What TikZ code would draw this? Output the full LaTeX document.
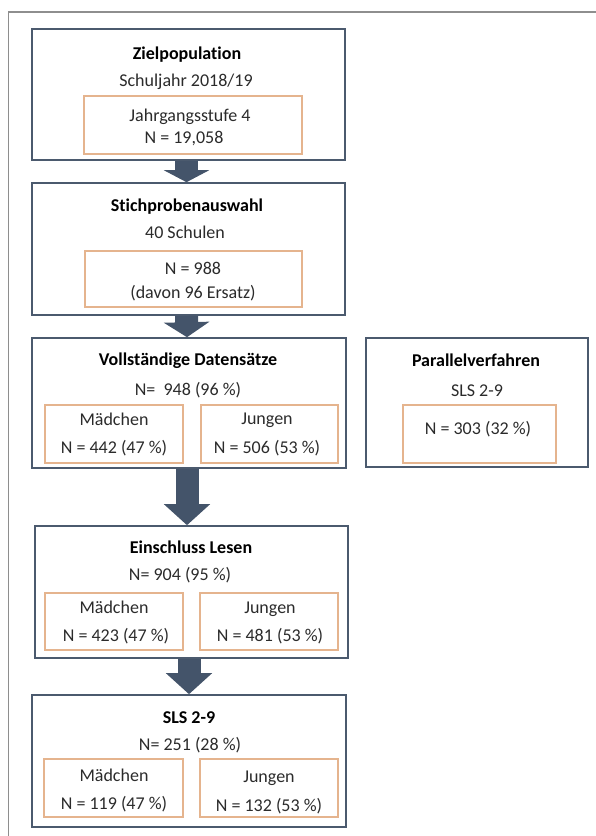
\documentclass[tikz,border=0pt]{standalone}
\usepackage{fontspec}
\setmainfont{Carlito}[Ligatures=NoCommon]
\usetikzlibrary{arrows.meta,calc}
\definecolor{boxblue}{HTML}{4B5A6E}
\definecolor{arrowblue}{HTML}{44546A}
\definecolor{subor}{HTML}{E5B48E}
\definecolor{frameg}{HTML}{8E8E8E}
\definecolor{txt}{HTML}{2B2B2B}
\tikzset{every picture/.style={line width=0.75pt}}
\tikzset{
  mainbox/.style={draw=boxblue,line width=1.6pt,fill=white,inner sep=0pt},
  subbox/.style={draw=subor,line width=1.1pt,inner sep=0pt},
  lbl/.style={text=txt,inner sep=0pt,text height=15pt,text depth=3pt,font=\fontsize{18}{21}\selectfont},
  ttl/.style={lbl,text=black,font=\fontsize{18}{21}\selectfont\bfseries},
  bigarrow/.style={draw=arrowblue,line width=23pt,-{Triangle[width=45pt,length=#1]}},
  bigarrow/.default=14pt
}

\begin{document}
\begin{tikzpicture}[x=1pt,y=-1pt]
    \useasboundingbox (0,0) rectangle (595,836);
    % Rahmen
    \draw[frameg,line width=1.5pt] (8.5,840) -- (8.5,12) -- (600,12);

    % === Zielpopulation ===
    \node[mainbox,minimum width=313pt,minimum height=131pt] (ziel) at (188.5,94.5) {};
    \node[subbox,minimum width=218pt,minimum height=58pt] (zielN) at (193,125) {};
    \node[ttl] (zielT) at (187,53) {Zielpopulation};
    \node[lbl] (zielS) at (186,80) {Schuljahr 2018/19};
    \node[lbl] (zielA) at (190,115) {Jahrgangsstufe 4};
    \node[lbl] (zielB) at (184,137) {N = 19,058};

    % === Stichprobenauswahl ===
    \node[mainbox,minimum width=313pt,minimum height=132pt] (stich) at (188.5,249) {};
    \node[subbox,minimum width=217pt,minimum height=56pt] (stichN) at (193.5,279) {};
    \node[ttl] (stichT) at (187,205) {Stichprobenauswahl};
    \node[lbl] (stichS) at (185,232) {40 Schulen};
    \node[lbl] (stichA) at (193,268) {N = 988};
    \node[lbl] (stichB) at (193,292) {(davon 96 Ersatz)};

    % === Vollständige Datensätze ===
    \node[mainbox,minimum width=314pt,minimum height=130pt] (voll) at (189,403) {};
    \node[subbox,minimum width=138pt,minimum height=58pt] (vollM) at (114,434) {};
    \node[subbox,minimum width=137pt,minimum height=58pt] (vollJ) at (269.5,434) {};
    \node[ttl] (vollT) at (188,359) {Vollständige Datensätze};
    \node[lbl] (vollS) at (188,389) {N=\ \ 948 (96 \%)};
    \node[lbl] (vollMa) at (114,419) {Mädchen};
    \node[lbl] (vollMb) at (114,447) {N = 442 (47 \%)};
    \node[lbl] (vollJa) at (267,418) {Jungen};
    \node[lbl] (vollJb) at (267,447) {N = 506 (53 \%)};

    % === Parallelverfahren ===
    \node[mainbox,minimum width=222pt,minimum height=129pt] (para) at (477,402.5) {};
    \node[subbox,minimum width=153pt,minimum height=58pt] (paraN) at (479.5,434) {};
    \node[ttl] (paraT) at (476,360) {Parallelverfahren};
    \node[lbl] (paraS) at (477,390) {SLS 2-9};
    \node[lbl] (paraA) at (478,428) {N = 303 (32 \%)};

    % === Einschluss Lesen ===
    \node[mainbox,minimum width=313pt,minimum height=132pt] (ein) at (191.5,592) {};
    \node[subbox,minimum width=138pt,minimum height=57pt] (einM) at (114,621.5) {};
    \node[subbox,minimum width=138pt,minimum height=57pt] (einJ) at (269,621.5) {};
    \node[ttl] (einT) at (191,547) {Einschluss Lesen};
    \node[lbl] (einS) at (180,574) {N= 904 (95 \%)};
    \node[lbl] (einMa) at (114,607) {Mädchen};
    \node[lbl] (einMb) at (116,635) {N = 423 (47 \%)};
    \node[lbl] (einJa) at (270,607) {Jungen};
    \node[lbl] (einJb) at (270,635) {N = 481 (53 \%)};

    % === SLS 2-9 ===
    \node[mainbox,minimum width=314pt,minimum height=132pt] (sls) at (189,761) {};
    \node[subbox,minimum width=139pt,minimum height=58pt] (slsM) at (113.5,788) {};
    \node[subbox,minimum width=138pt,minimum height=58pt] (slsJ) at (269,788) {};
    \node[ttl] (slsT) at (189,717) {SLS 2-9};
    \node[lbl] (slsS) at (190,744) {N= 251 (28 \%)};
    \node[lbl] (slsMa) at (114,775) {Mädchen};
    \node[lbl] (slsMb) at (114,803) {N = 119 (47 \%)};
    \node[lbl] (slsJa) at (269,776) {Jungen};
    \node[lbl] (slsJb) at (269,805) {N = 132 (53 \%)};

    % Pfeile
    \draw[bigarrow=12pt] ([xshift=-2pt]ziel.south) -- ([xshift=-2pt]stich.north);
    \draw[bigarrow=15pt] ([xshift=-2pt]stich.south) -- ([xshift=-2pt]voll.north);
    \draw[bigarrow=21pt] ([xshift=-2pt]voll.south) -- ([xshift=-2pt]voll.south |- ein.north);
    \draw[bigarrow=21pt] (ein.south -| sls.north) -- (sls.north);
\end{tikzpicture}
\end{document}
